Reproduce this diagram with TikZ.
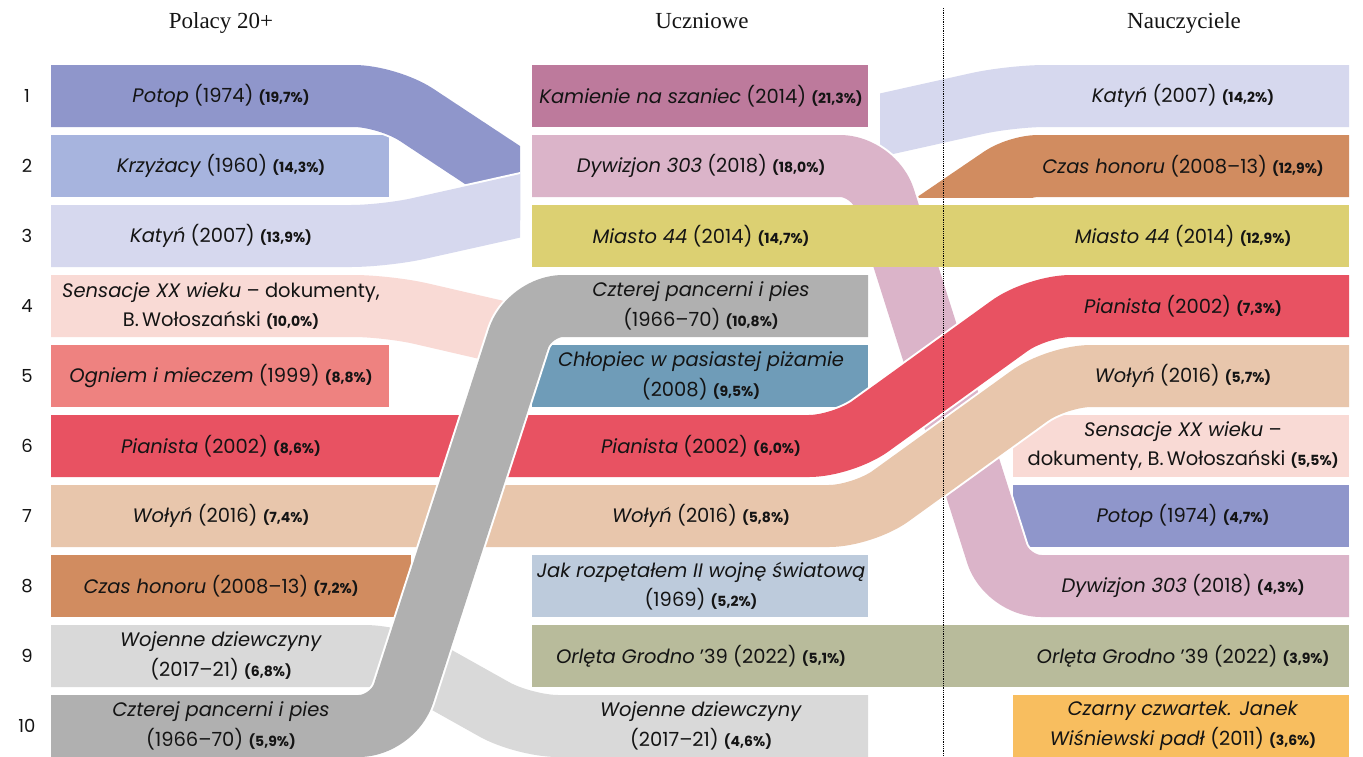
\documentclass[tikz,border=0pt]{standalone}
\usepackage{fontspec}
\setmainfont{Liberation Serif}
\newfontfamily\labfont{Poppins}
\definecolor{potop}{HTML}{8F96CB}
\definecolor{krzyzacy}{HTML}{A7B4DE}
\definecolor{katyn}{HTML}{D6D8EE}
\definecolor{sensacje}{HTML}{F9DAD5}
\definecolor{ogniem}{HTML}{EE8280}
\definecolor{pianista}{HTML}{E85262}
\definecolor{wolyn}{HTML}{E8C6AC}
\definecolor{czas}{HTML}{D18C60}
\definecolor{wojenne}{HTML}{D9D9D9}
\definecolor{czterej}{HTML}{B0B0B0}
\definecolor{kamienie}{HTML}{BD7A9C}
\definecolor{dywizjon}{HTML}{DBB4C9}
\definecolor{miasto}{HTML}{DCD072}
\definecolor{chlopiec}{HTML}{6F9CB8}
\definecolor{jak}{HTML}{BDCBDC}
\definecolor{orleta}{HTML}{B8BB9B}
\definecolor{czarny}{HTML}{F8BE5F}
\newcommand{\pct}[1]{{\fontsize{14}{16}\selectfont\bfseries(#1)}}

\begin{document}
\begin{tikzpicture}[
	x=1pt,y=-1pt,
	line join=round,
	lab/.style={font=\labfont\fontsize{19.5}{29.5}\selectfont,text=black!92,align=center,inner sep=0pt},
	head/.style={font=\fontsize{23}{26}\selectfont,text=black!92,anchor=base},
	rank/.style={font=\labfont\fontsize{18}{20}\selectfont,text=black!92},
	flow/.style={draw=white,line width=2pt,double=#1,double distance=62pt,rounded corners=34pt}
	]
	\useasboundingbox (0,0) rectangle (1363,756);
	% plain boxes
	\fill[krzyzacy] (51,135) rectangle (389,197);
	\fill[ogniem] (51,345) rectangle (389,407);
	\fill[czas] (51,555) rectangle (411,617);
	\fill[kamienie] (532,65) rectangle (868,127);
	\fill[chlopiec] (532,345) rectangle (868,407);
	\fill[jak] (532,555) rectangle (868,617);
	\fill[sensacje] (1013,415) rectangle (1349,477);
	\fill[potop] (1013,485) rectangle (1349,547);
	\fill[czarny] (1013,695) rectangle (1349,757);
	% stubs
	\begin{scope}
		\clip (0,0) rectangle (520,756);
		\draw[flow=potop] (51,96) -- (388,96) -- (600,236);
		\draw[flow=katyn] (51,236) -- (385,236) -- (600,188);
		\draw[flow=sensacje] (51,306) -- (388,306) -- (600,355);
	\end{scope}
	\begin{scope}
		\clip (880,0) rectangle (1363,756);
		\draw[flow=katyn] (1349,96) -- (1011,96) -- (800,143);
	\end{scope}
	\begin{scope}
		\clip (880,0) rectangle (1363,197);
		\draw[flow=czas,rounded corners=20pt] (1349,166) -- (1018,166) -- (860,273.4);
	\end{scope}
	% flows
	\draw[flow=wojenne] (51,656) -- (399,656) -- (524,726) -- (868,726);
	\draw[flow=dywizjon] (532,166) -- (874,166) -- (1007,586) -- (1349,586);
	\fill[miasto] (532,205) rectangle (1349,267);
	\fill[orleta] (532,625) rectangle (1349,687);
	\draw[flow=pianista] (51,446) -- (843,446) -- (1037,306) -- (1349,306);
	\draw[flow=wolyn] (51,516) -- (863,516) -- (1057,376) -- (1349,376);
	\draw[flow=czterej] (51,726) -- (393,726) -- (529,306) -- (868,306);
	\draw[densely dotted,line width=0.8pt] (943,8) -- (943,756);
	% headings and ranks
	\node[head] (h1) at (221,28) {Polacy 20+};
	\node[head] (h2) at (702,28) {Uczniowe};
	\node[head] (h3) at (1184,28) {Nauczyciele};
	\foreach \i in {1,...,10}
		\node[rank] (n\i) at (27,{96+70*(\i-1)}) {\i};
	% Polacy 20+
	\node[lab] (l1) at (221,96) {\textit{Potop} (1974) \pct{19,7\%}};
	\node[lab] (l2) at (221,166) {\textit{Krzyżacy} (1960) \pct{14,3\%}};
	\node[lab] (l3) at (221,236) {\textit{Katyń} (2007) \pct{13,9\%}};
	\node[lab] (l4) at (221,306) {\textit{Sensacje XX wieku} – dokumenty,\\B.\,Wołoszański \pct{10,0\%}};
	\node[lab] (l5) at (221,376) {\textit{Ogniem i mieczem} (1999) \pct{8,8\%}};
	\node[lab] (l6) at (221,446) {\textit{Pianista} (2002) \pct{8,6\%}};
	\node[lab] (l7) at (221,516) {\textit{Wołyń} (2016) \pct{7,4\%}};
	\node[lab] (l8) at (221,586) {\textit{Czas honoru} (2008–13) \pct{7,2\%}};
	\node[lab] (l9) at (221,656) {\textit{Wojenne dziewczyny}\\(2017–21) \pct{6,8\%}};
	\node[lab] (l10) at (221,726) {\textit{Czterej pancerni i pies}\\(1966–70) \pct{5,9\%}};
	% Uczniowe
	\node[lab] (m1) at (701,96) {\textit{Kamienie na szaniec} (2014) \pct{21,3\%}};
	\node[lab] (m2) at (701,166) {\textit{Dywizjon 303} (2018) \pct{18,0\%}};
	\node[lab] (m3) at (701,236) {\textit{Miasto 44} (2014) \pct{14,7\%}};
	\node[lab] (m4) at (701,306) {\textit{Czterej pancerni i pies}\\(1966–70) \pct{10,8\%}};
	\node[lab] (m5) at (701,376) {\textit{Chłopiec w pasiastej piżamie}\\(2008) \pct{9,5\%}};
	\node[lab] (m6) at (701,446) {\textit{Pianista} (2002) \pct{6,0\%}};
	\node[lab] (m7) at (701,516) {\textit{Wołyń} (2016) \pct{5,8\%}};
	\node[lab] (m8) at (701,586) {\textit{Jak rozpętałem II wojnę światową}\\(1969) \pct{5,2\%}};
	\node[lab] (m9) at (701,656) {\textit{Orlęta Grodno} ’39 (2022) \pct{5,1\%}};
	\node[lab] (m10) at (701,726) {\textit{Wojenne dziewczyny}\\(2017–21) \pct{4,6\%}};
	% Nauczyciele
	\node[lab] (r1) at (1183,96) {\textit{Katyń} (2007) \pct{14,2\%}};
	\node[lab] (r2) at (1183,166) {\textit{Czas honoru} (2008–13) \pct{12,9\%}};
	\node[lab] (r3) at (1183,236) {\textit{Miasto 44} (2014) \pct{12,9\%}};
	\node[lab] (r4) at (1183,306) {\textit{Pianista} (2002) \pct{7,3\%}};
	\node[lab] (r5) at (1183,376) {\textit{Wołyń} (2016) \pct{5,7\%}};
	\node[lab] (r6) at (1183,446) {\textit{Sensacje XX wieku} –\\dokumenty, B.\,Wołoszański \pct{5,5\%}};
	\node[lab] (r7) at (1183,516) {\textit{Potop} (1974) \pct{4,7\%}};
	\node[lab] (r8) at (1183,586) {\textit{Dywizjon 303} (2018) \pct{4,3\%}};
	\node[lab] (r9) at (1183,656) {\textit{Orlęta Grodno} ’39 (2022) \pct{3,9\%}};
	\node[lab] (r10) at (1183,726) {\textit{Czarny czwartek. Janek}\\\textit{Wiśniewski padł} (2011) \pct{3,6\%}};
\end{tikzpicture}
\end{document}
